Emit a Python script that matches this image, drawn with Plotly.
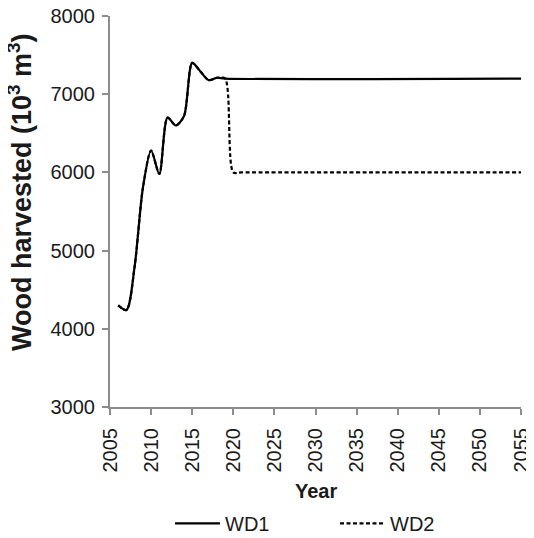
import plotly.graph_objects as go

# WD1 / WD2 wood harvest (10^3 m3)
years_hist = [2006, 2007, 2008, 2009, 2010, 2011, 2012, 2013, 2014, 2015, 2016, 2017, 2018, 2019]
wd_hist = [4300, 4240, 4800, 5800, 6280, 5980, 6700, 6600, 6720, 7400, 7290, 7180, 7210, 7200]

years_wd1 = years_hist + [2055]
wd1 = wd_hist + [7200]

years_wd2 = years_hist + [2020, 2021, 2055]
wd2 = wd_hist + [6000, 6000, 6000]

font_family = "Liberation Sans, Arial, sans-serif"
axis_grey = '#8c8c8c'

fig = go.Figure()
fig.add_trace(go.Scatter(x=years_wd1, y=wd1, mode='lines', name='WD1',
                         line=dict(color='black', width=2.2, shape='spline', smoothing=0.8)))
fig.add_trace(go.Scatter(x=years_wd2, y=wd2, mode='lines', name='WD2',
                         line=dict(color='black', width=2.2, dash='4px,2.5px', shape='spline', smoothing=0.8)))

# page body adds an 8px offset, so the figure is 8px smaller than the window
fig.update_layout(
    width=526, height=530,
    margin=dict(l=102, r=13, t=8, b=131, autoexpand=False),
    plot_bgcolor='white', paper_bgcolor='white',
    font=dict(family=font_family, size=20, color='#1a1a1a'),
    legend=dict(orientation='h', x=0.146, xanchor='left', y=-0.248, yanchor='top',
                itemwidth=45, entrywidth=105, entrywidthmode='pixels', font=dict(size=20)),
)
fig.update_xaxes(
    range=[2005, 2055], dtick=5, tick0=2005, tickangle=-90,
    showline=True, linecolor=axis_grey, linewidth=2,
    ticks='outside', tickcolor=axis_grey, ticklen=6, tickwidth=1.5,
    ticklabelstandoff=5, ticklabeloverflow='allow',
    showgrid=False, zeroline=False, automargin=False,
)
fig.update_yaxes(
    range=[3000, 8000], dtick=1000,
    showline=True, linecolor=axis_grey, linewidth=2,
    ticks='outside', tickcolor=axis_grey, ticklen=6, tickwidth=1.5,
    ticklabelstandoff=3, ticklabeloverflow='allow',
    showgrid=False, zeroline=False, automargin=False,
)

# axis titles
fig.add_annotation(text='<b>Year</b>', xref='paper', yref='paper', x=0.5, y=-0.215,
                   xanchor='center', yanchor='middle', showarrow=False, font=dict(size=20))
fig.add_annotation(text='<b>Wood harvested (10<sup>3</sup> m<sup>3</sup>)</b>', xref='paper', yref='paper',
                   x=-0.2187, y=0.55, xanchor='center', yanchor='middle', textangle=-90,
                   showarrow=False, font=dict(size=27))

fig.write_html("out.html")
